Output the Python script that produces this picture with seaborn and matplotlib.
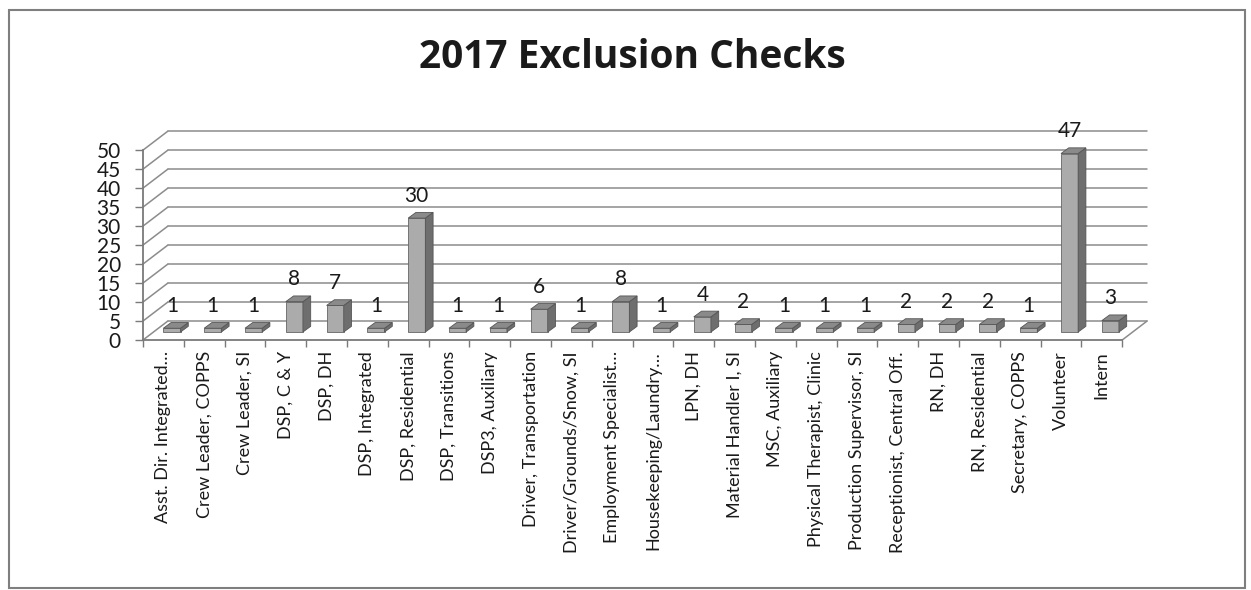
import matplotlib
matplotlib.use("Agg")
import matplotlib.pyplot as plt
import seaborn as sns
import pandas as pd
from matplotlib.patches import Polygon, Rectangle

# ---- data ----
categories = [
    "Asst. Dir. Integrated…", "Crew Leader, COPPS", "Crew Leader, SI", "DSP, C & Y",
    "DSP, DH", "DSP, Integrated", "DSP, Residential", "DSP, Transitions",
    "DSP3, Auxiliary", "Driver, Transportation", "Driver/Grounds/Snow, SI",
    "Employment Specialist…", "Housekeeping/Laundry…", "LPN, DH", "Material Handler I, SI",
    "MSC, Auxiliary", "Physical Therapist, Clinic", "Production Supervisor, SI",
    "Receptionist, Central Off.", "RN, DH", "RN, Residential", "Secretary, COPPS",
    "Volunteer", "Intern",
]
values = [1, 1, 1, 8, 7, 1, 30, 1, 1, 6, 1, 8, 1, 4, 2, 1, 1, 1, 2, 2, 2, 1, 47, 3]
y_ticks = [0, 5, 10, 15, 20, 25, 30, 35, 40, 45, 50]
title = "2017 Exclusion Checks"

# ---- style ----
sns.set_theme(style="white")
plt.rcParams['font.family'] = ['Lato', 'DejaVu Sans']

W, H = 1251, 590
fig = plt.figure(figsize=(W / 100, H / 100), dpi=100)
ax = fig.add_axes([143 / W, 1 - 340 / H, 1004.5 / W, 210 / H])

df = pd.DataFrame({"cat": categories, "val": values})
sns.barplot(data=df, x="cat", y="val", order=categories, color="#ababab",
            saturation=1, width=0.42, edgecolor="#666666", linewidth=0.6,
            ax=ax, zorder=3)

# pseudo-3D geometry (in data units)
DXB, DYB = 0.61, 5.0      # back wall offset
DXF, DYF = 0.21, 2.1      # bar front-face offset
DXS, DYS = 0.19, 1.5      # bar depth
n = len(categories)
grid_c = "#8c8c8c"

# walls / grid
for v in y_ticks:
    ax.plot([-0.5, -0.5 + DXB], [v, v + DYB], color=grid_c, lw=1.1, zorder=1, clip_on=False)
    ax.plot([-0.5 + DXB, n - 0.5 + DXB], [v + DYB, v + DYB], color=grid_c, lw=1.1,
            zorder=1, clip_on=False)
ax.plot([n - 0.5, n - 0.5 + DXB], [0, DYB], color=grid_c, lw=1.1, zorder=1, clip_on=False)

# bars: shift front face & add top / side faces
for p in ax.patches:
    x0 = p.get_x() + DXF
    w = p.get_width()
    h = p.get_height()
    p.set_x(x0)
    p.set_y(DYF)
    x1 = x0 + w
    bot, top = DYF, DYF + h
    side = Polygon([(x1, bot), (x1 + DXS, bot + DYS), (x1 + DXS, top + DYS), (x1, top)],
                   closed=True, facecolor="#6e6e6e", edgecolor="#555555", lw=0.6, zorder=3)
    cap = Polygon([(x0, top), (x1, top), (x1 + DXS, top + DYS), (x0 + DXS, top + DYS)],
                  closed=True, facecolor="#8a8a8a", edgecolor="#555555", lw=0.6, zorder=4)
    ax.add_patch(side)
    ax.add_patch(cap)

# value labels
for i, v in enumerate(values):
    ax.text(i + DXF, v + DYF + 4.3, str(v), ha="center", va="baseline",
            fontsize=15, color="#1a1a1a", zorder=5)

ax.set_xlim(-0.5, n - 0.5 + DXB + 0.01)
ax.set_ylim(0, 55.3)
for s in ["top", "right"]:
    ax.spines[s].set_visible(False)
ax.spines["left"].set_bounds(0, 50)
ax.spines["bottom"].set_bounds(-0.5, n - 0.5)
for s in ["left", "bottom"]:
    ax.spines[s].set_color("#7a7a7a")
    ax.spines[s].set_linewidth(1.3)

ax.set_yticks(y_ticks)
ax.set_yticklabels([str(t) for t in y_ticks], fontsize=15, color="#1a1a1a")
ax.tick_params(axis="y", direction="out", length=6, width=1, color="#7a7a7a", pad=10, left=True)
ax.set_xticks(range(n))
ax.set_xticklabels(categories, rotation=90, fontsize=13, color="#1a1a1a")
ax.tick_params(axis="x", which="major", length=0, pad=8)
ax.set_xticks([i - 0.5 for i in range(n + 1)], minor=True)
ax.tick_params(axis="x", which="minor", direction="out", length=5, width=1,
               color="#7a7a7a", bottom=True)
ax.set_xlabel("")
ax.set_ylabel("")
ax.patch.set_alpha(0)

fig.text(632 / W, 1 - 58 / H, title, ha="center", va="center", fontsize=28,
         fontweight="bold", color="#1a1a1a", family=["Open Sans", "DejaVu Sans"])

fig.patches.append(Rectangle((9 / W, 2 / H), (1245 - 9) / W, (588 - 10) / H,
                             transform=fig.transFigure, fill=False,
                             edgecolor="#7f7f7f", lw=1.5))

fig.savefig("out.png", dpi=100)
